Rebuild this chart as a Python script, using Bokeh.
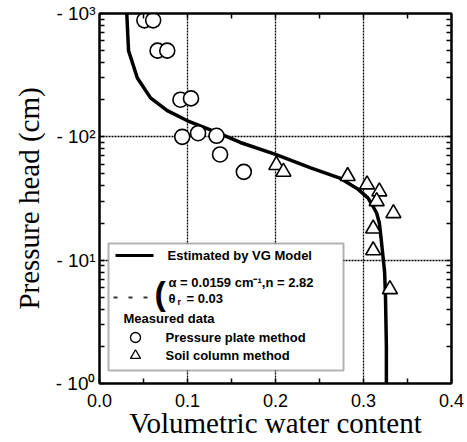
from bokeh.plotting import figure
from bokeh.models import (FixedTicker, LinearAxis, LogAxis, CustomJSTickFormatter,
                          BoxAnnotation, Label, Range1d, Title)
from bokeh.embed import file_html
from bokeh.resources import INLINE

# ---- data ----
# VG model curve (volumetric water content vs pressure head)
theta_curve = [0.326, 0.326, 0.325, 0.324, 0.322, 0.320, 0.318, 0.315, 0.310, 0.305,
               0.293, 0.274, 0.240, 0.200, 0.160, 0.134, 0.100, 0.077, 0.058, 0.043,
               0.033, 0.031]
h_curve = [1, 2, 5, 8, 11, 15, 20, 24, 28, 32,
           38, 46, 56, 72, 90, 108, 135, 163, 207, 300,
           500, 1000]

# Pressure plate method (circles)
plate_theta = [0.051, 0.061, 0.066, 0.077, 0.092, 0.104, 0.094, 0.112, 0.133, 0.137, 0.164]
plate_h = [880, 880, 500, 500, 200, 205, 100, 107, 102, 72, 52]

# Soil column method (triangles)
column_theta = [0.201, 0.209, 0.282, 0.304, 0.318, 0.315, 0.334, 0.311, 0.311, 0.330]
column_h = [59, 52, 48, 41, 36, 30, 24, 18, 12, 5.8]

x_ticks = [0.0, 0.1, 0.2, 0.3, 0.4]
x_tick_labels = ["0.0", "0.1", "0.2", "0.3", "0.4"]
x_minor_ticks = [0.05, 0.15, 0.25, 0.35]
x_grid = [0.1, 0.2, 0.3]
y_ticks = [1, 10, 100, 1000]
y_tick_labels = ["- 10\u2070", "- 10\u00b9", "- 10\u00b2", "- 10\u00b3"]
y_minor_ticks = [2, 3, 4, 5, 6, 7, 8, 9, 20, 30, 40, 50, 60, 70, 80, 90,
                 200, 300, 400, 500, 600, 700, 800, 900]
y_grid = [10, 100]
x_title = "Volumetric water content"
y_title = "Pressure head (cm)"

# ---- layout ----
W, H = 467, 442
FL, FR, FT, FB = 99, 451, 13, 383
X0, X1 = 0.0, 0.4
Y0, Y1 = 1, 1000

p = figure(width=W, height=H, x_range=Range1d(X0, X1), y_range=Range1d(Y0, Y1),
           y_axis_type="log", output_backend="svg", toolbar_location=None,
           min_border_left=FL, min_border_right=W - FR, min_border_top=FT,
           min_border_bottom=H - FB)
p.background_fill_color = "white"
p.border_fill_color = "white"
p.outline_line_color = "black"
p.outline_line_width = 2

code = """
for (let i = 0; i < tvals.length; i++) {
  if (Math.abs(tick - tvals[i]) < 1e-6 * Math.max(1, Math.abs(tvals[i]))) return tlabels[i];
}
return "";
"""
x_fmt = CustomJSTickFormatter(args=dict(tvals=x_ticks, tlabels=x_tick_labels), code=code)
y_fmt = CustomJSTickFormatter(args=dict(tvals=y_ticks, tlabels=y_tick_labels), code=code)


def style(ax):
    ax.axis_line_color = "black"
    ax.axis_line_width = 2
    ax.major_tick_in = 5
    ax.major_tick_out = 0
    ax.minor_tick_in = 5
    ax.minor_tick_out = 0
    ax.major_tick_line_color = "black"
    ax.minor_tick_line_color = "black"
    ax.major_tick_line_width = 1.5
    ax.minor_tick_line_width = 1.5


xa = p.xaxis[0]
xa.ticker = FixedTicker(ticks=x_ticks, minor_ticks=x_minor_ticks)
xa.formatter = x_fmt
style(xa)
xa.major_label_text_font = "Liberation Sans"
xa.major_label_text_font_size = "18px"
xa.major_label_text_color = "black"
xa.major_label_standoff = 10
xa.axis_label = x_title
xa.axis_label_text_font = "Liberation Serif"
xa.axis_label_text_font_style = "normal"
xa.axis_label_text_font_size = "29px"
xa.axis_label_text_color = "black"
xa.axis_label_standoff = -3

ya = p.yaxis[0]
ya.ticker = FixedTicker(ticks=y_ticks, minor_ticks=y_minor_ticks)
ya.formatter = y_fmt
style(ya)
ya.major_label_text_font = "Liberation Sans"
ya.major_label_text_font_size = "19px"
ya.major_label_text_color = "black"
ya.major_label_standoff = 4

# y title as a side title so it can sit slightly above centre, as in the original
yt = Title(text=y_title, align="center", offset=20, standoff=16,
           text_font="Liberation Serif", text_font_size="29px",
           text_font_style="normal", text_color="black")
p.add_layout(yt, "left")

# top / right frame axes: ticks only (no labels)
top = LinearAxis(ticker=FixedTicker(ticks=[], minor_ticks=x_minor_ticks + x_grid))
style(top)
p.add_layout(top, "above")
right = LogAxis(ticker=FixedTicker(ticks=[], minor_ticks=y_minor_ticks + y_grid))
style(right)
p.add_layout(right, "right")

p.xgrid.ticker = FixedTicker(ticks=x_grid)
p.ygrid.ticker = FixedTicker(ticks=y_grid)
for g in (p.xgrid[0], p.ygrid[0]):
    g.grid_line_color = "black"
    g.grid_line_dash = "2 1"
    g.grid_line_width = 1.3
    g.minor_grid_line_color = None

# ---- data marks ----
p.line(theta_curve, h_curve, line_width=3.5, line_color="black")
p.scatter(plate_theta, plate_h, marker="circle", size=15, fill_color="white",
          line_color="black", line_width=1.6)
p.scatter(column_theta, column_h, marker="triangle", size=15, fill_color="white",
          line_color="black", line_width=1.6)


# ---- helpers: page pixel -> data position (for the legend only) ----
def X(px):
    return X0 + (px - FL) / (FR - FL) * (X1 - X0)


def Y(py):
    return 10 ** (3 - (py - FT) / (FB - FT) * 3)


# ---- legend (hand-built to match the original box) ----
box = BoxAnnotation(left=X(108), right=X(343), top=Y(243), bottom=Y(370),
                    fill_color="white", fill_alpha=1.0, line_color="black",
                    line_width=2, level="annotation")
p.add_layout(box)

seg = p.segment(x0=[X(115)], y0=[Y(255)], x1=[X(153)], y1=[Y(255)],
                line_width=3, line_color="black")
seg.level = "overlay"
dash = p.segment(x0=[X(113)], y0=[Y(297)], x1=[X(150)], y1=[Y(297)],
                 line_width=1.8, line_color="#333333", line_dash="4 11")
dash.level = "overlay"
c = p.scatter([X(135)], [Y(337)], marker="circle", size=10, fill_color="white",
              line_color="black", line_width=1.3)
c.level = "overlay"
t = p.scatter([X(135)], [Y(355)], marker="triangle", size=10, fill_color="white",
              line_color="black", line_width=1.3)
t.level = "overlay"

LF = "Liberation Sans"


def lab(px, py, text, size="13px", style="bold"):
    L = Label(x=X(px), y=Y(py), text=text, text_font=LF, text_font_size=size,
              text_font_style=style, text_baseline="middle", text_color="black",
              level="overlay")
    p.add_layout(L)


lab(167, 255, "Estimated by VG Model")
lab(154, 292, "(", size="34px")
lab(168, 282, "\u03b1 = 0.0159 cm\u207b\u00b9,n = 2.82")
lab(168, 298, "\u03b8")
lab(177, 301, "r", size="9px")
lab(186, 298, "= 0.03")
lab(123, 318, "Measured data")
lab(165, 337, "Pressure plate method")
lab(165, 355, "Soil column method")

open("out.html", "w").write(file_html(p, INLINE))
